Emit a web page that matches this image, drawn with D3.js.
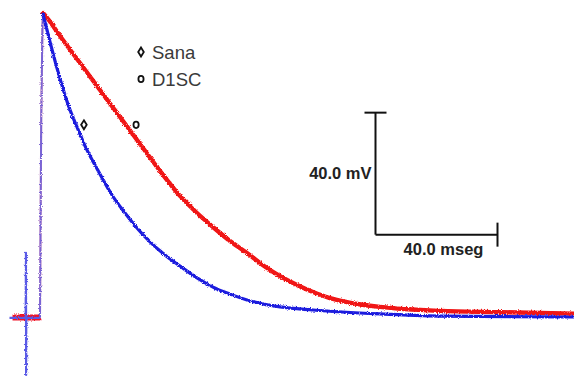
<!DOCTYPE html>
<html>
<head>
<meta charset="utf-8">
<script src="https://cdn.jsdelivr.net/npm/d3@7/dist/d3.min.js"></script>
<style>
  html, body { margin: 0; padding: 0; background: #fff; }
  svg { display: block; }
</style>
</head>
<body>
<svg id="chart" width="574" height="380"></svg>
<script>
// Action potential recordings: time in ms, membrane potential in mV
const seriesNames = ["Sana", "D1SC"];

// Sana (blue): stimulus artifact, upstroke, faster repolarisation
const sanaTime = [-10, -4.7, -4.6, -4.55, -4.5, -0.2,
                  0, 0.4, 0.8, 0.98,
                  3.28, 5.57, 7.87, 9.84, 12.13, 14.75, 18.03, 21.31, 23.61, 27.87, 31.80, 36.07, 40.98, 45.90, 51.48, 56.72, 62.30, 67.87, 78.69, 89.51, 111.48, 131.15, 175];
const sanaV    = [-85.3, -85.3, -64.0, -104.0, -85.3, -85.3,
                  -85.0, -20.0, 10.0, 14.3,
                  5.2, -3.4, -11.2, -17.1, -22.7, -28.9, -35.2, -41.1, -45.0, -50.9, -55.8, -60.4, -64.7, -68.3, -72.2, -75.2, -77.5, -79.4, -81.7, -82.7, -84.0, -84.7, -85.0];

// D1SC (red): same upstroke, slower repolarisation
const d1scTime = [-9, -0.3,
                  0, 0.4, 0.8, 0.98,
                  2.62, 6.56, 13.11, 19.67, 26.23, 32.79, 39.34, 45.90, 51.48, 56.72, 62.30, 67.87, 73.11, 78.69, 84.26, 89.51, 95.08, 100.66, 111.48, 131.15, 150.82, 175];
const d1scV    = [-85.2, -85.2,
                  -85.0, -20.0, 10.0, 14.7,
                  12.7, 7.1, -1.7, -10.6, -19.4, -28.3, -37.1, -45.3, -50.9, -55.5, -60.1, -64.0, -68.0, -71.6, -74.5, -76.8, -78.8, -80.1, -81.7, -83.0, -83.4, -83.9];

// Scale-bar annotation
const barTimeSpan = [110, 150];   // 40.0 mseg
const barVoltSpan = [-58, -18];   // 40.0 mV
const barLabels = ["40.0 mV", "40.0 mseg"];

// Marker symbols identifying each trace
const markerTime = [14.4, 31.5];
const markerV = [-22.0, -22.0];

const svg = d3.select("#chart");

const x = d3.scaleLinear().domain([-10, 175]).range([9.5, 573.75]);
const y = d3.scaleLinear().domain([-85, 15]).range([317, 12]);

// Fine jitter so the traces read like sampled recordings
const defs = svg.append("defs");
const rough = defs.append("filter").attr("id", "rough")
  .attr("x", "-5%").attr("y", "-5%").attr("width", "110%").attr("height", "110%");
rough.append("feTurbulence").attr("type", "fractalNoise")
  .attr("baseFrequency", "1.3 0.9").attr("numOctaves", 1).attr("seed", 7).attr("result", "n");
rough.append("feDisplacementMap").attr("in", "SourceGraphic").attr("in2", "n")
  .attr("scale", 3.4).attr("xChannelSelector", "R").attr("yChannelSelector", "G");

const linear = d3.line().x(d => x(d[0])).y(d => y(d[1])).curve(d3.curveLinear);
const smooth = d3.line().x(d => x(d[0])).y(d => y(d[1])).curve(d3.curveMonotoneX);

const traces = [
  { pts: d3.zip(d1scTime, d1scV), color: "#f01212", restColor: "#f01228", up: 2, peak: 5, restW: 6, decayW: 4.3, upColor: "#f06a7a" },
  { pts: d3.zip(sanaTime, sanaV), color: "#1c1cde", restColor: "#5a5ae6", up: 6, peak: 9, restW: 2.2, decayW: 3.2, upColor: "#5a5ae6" }
];

const g = svg.append("g").attr("filter", "url(#rough)");

traces.forEach(t => {
  // resting segment (incl. stimulus artifact)
  g.append("path").datum(t.pts.slice(0, t.up + 1))
    .attr("fill", "none").attr("stroke", t.restColor)
    .attr("stroke-width", t.restW).attr("stroke-linejoin", "round")
    .attr("d", linear);
  // upstroke
  g.append("path").datum(t.pts.slice(t.up, t.peak + 1))
    .attr("fill", "none").attr("stroke", t.upColor).attr("stroke-opacity", 0.8)
    .attr("stroke-width", 2).attr("stroke-linejoin", "round")
    .attr("d", linear);
  // repolarisation
  g.append("path").datum(t.pts.slice(t.peak))
    .attr("fill", "none").attr("stroke", t.color)
    .attr("stroke-width", t.decayW).attr("stroke-linejoin", "round").attr("stroke-linecap", "round")
    .attr("d", smooth);
});

// Scale bar
const sb = svg.append("g").attr("stroke", "#111").attr("stroke-width", 2).attr("fill", "none");
const bx0 = x(barTimeSpan[0]), bx1 = x(barTimeSpan[1]);
const by0 = y(barVoltSpan[0]), by1 = y(barVoltSpan[1]);
sb.append("line").attr("x1", bx0).attr("x2", bx0).attr("y1", by0).attr("y2", by1);
sb.append("line").attr("x1", bx0 - 11).attr("x2", bx0 + 11).attr("y1", by1).attr("y2", by1);
sb.append("line").attr("x1", bx0).attr("x2", bx1).attr("y1", by0).attr("y2", by0);
sb.append("line").attr("x1", bx1).attr("x2", bx1).attr("y1", by0 - 12).attr("y2", by0 + 12);

svg.append("text")
  .attr("x", bx0 - 4).attr("y", (by0 + by1) / 2 + 5)
  .attr("text-anchor", "end")
  .attr("font-family", "Liberation Sans, Arial, sans-serif")
  .attr("font-weight", "bold").attr("font-size", 16.5)
  .attr("fill", "#222")
  .text(barLabels[0]);

svg.append("text")
  .attr("x", (bx0 + bx1) / 2 + 7).attr("y", by0 + 20)
  .attr("text-anchor", "middle")
  .attr("font-family", "Liberation Sans, Arial, sans-serif")
  .attr("font-weight", "bold").attr("font-size", 16.5)
  .attr("fill", "#222")
  .text(barLabels[1]);

// Symbol shapes: outlined diamond for Sana, outlined circle for D1SC
function drawSymbol(sel, i, cx, cy) {
  if (i === 0) {
    sel.append("path")
      .attr("d", `M${cx},${cy - 4.5} L${cx + 2.8},${cy} L${cx},${cy + 4.5} L${cx - 2.8},${cy} Z`)
      .attr("fill", "none").attr("stroke", "#111").attr("stroke-width", 1.8);
  } else {
    sel.append("ellipse")
      .attr("cx", cx).attr("cy", cy).attr("rx", 2.6).attr("ry", 3.2)
      .attr("fill", "none").attr("stroke", "#111").attr("stroke-width", 1.8);
  }
}

const legend = svg.append("g");
seriesNames.forEach((name, i) => {
  const ly = 52 + i * 27;
  drawSymbol(legend, i, 141, ly);
  legend.append("text")
    .attr("x", 152).attr("y", ly + 6.5)
    .attr("font-family", "Liberation Sans, Arial, sans-serif")
    .attr("font-size", 18.5)
    .attr("fill", "#3a3a3a")
    .text(name);
});

seriesNames.forEach((name, i) => {
  drawSymbol(svg, i, x(markerTime[i]), y(markerV[i]));
});
</script>
</body>
</html>
